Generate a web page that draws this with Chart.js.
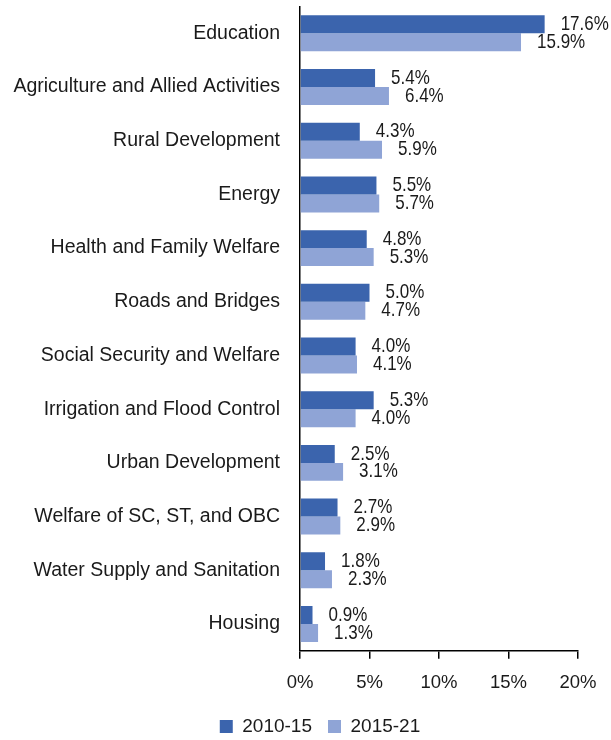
<!DOCTYPE html>
<html>
<head>
<meta charset="utf-8">
<script src="https://cdn.jsdelivr.net/npm/chart.js@4"></script>
<style>
  html, body { margin: 0; padding: 0; background: #fff; }
  #wrap { width: 611px; height: 740px; }
</style>
</head>
<body>
<div id="wrap"><canvas id="myChart" width="611" height="740"></canvas></div>
<script>
var sectors = ["Education", "Agriculture and Allied Activities", "Rural Development", "Energy",
  "Health and Family Welfare", "Roads and Bridges", "Social Security and Welfare",
  "Irrigation and Flood Control", "Urban Development", "Welfare of SC, ST, and OBC",
  "Water Supply and Sanitation", "Housing"];
var share1015 = [17.6, 5.4, 4.3, 5.5, 4.8, 5.0, 4.0, 5.3, 2.5, 2.7, 1.8, 0.9];
var share1521 = [15.9, 6.4, 5.9, 5.7, 5.3, 4.7, 4.1, 4.0, 3.1, 2.9, 2.3, 1.3];
var xTicks = [0, 5, 10, 15, 20];

var fontName = "'Liberation Sans', Arial, sans-serif";

// value labels to the right of each bar
var barLabels = {
  id: 'barLabels',
  afterDatasetsDraw: function(chart) {
    var ctx = chart.ctx;
    chart.data.datasets.forEach(function(ds, i) {
      chart.getDatasetMeta(i).data.forEach(function(bar, j) {
        ctx.save();
        ctx.font = "17px " + fontName;
        ctx.fillStyle = "#1a1a1a";
        ctx.textAlign = "left";
        ctx.textBaseline = "middle";
        ctx.translate(bar.x + 16, bar.y);
        ctx.scale(1, 1.2);
        ctx.fillText(ds.data[j].toFixed(1) + "%", 0, 0);
        ctx.restore();
      });
    });
  }
};

// nudge the legend to where the original has it
var legendShift = {
  id: 'legendShift',
  afterLayout: function(chart) {
    var lg = chart.legend;
    lg.left += 26; lg.right += 26;
    lg.top -= 6; lg.bottom -= 6;
  }
};

new Chart("myChart", {
  type: "bar",
  data: {
    labels: sectors,
    datasets: [{
      label: "2010-15",
      data: share1015,
      backgroundColor: "#3B64AD",
      categoryPercentage: 0.67,
      barPercentage: 1
    }, {
      label: "2015-21",
      data: share1521,
      backgroundColor: "#8FA4D6",
      categoryPercentage: 0.67,
      barPercentage: 1
    }]
  },
  options: {
    indexAxis: "y",
    responsive: false,
    animation: false,
    layout: {padding: {left: 10, right: 33, top: 6.5, bottom: -12}},
    plugins: {
      tooltip: {enabled: false},
      legend: {
        position: "bottom",
        labels: {
          boxWidth: 13,
          boxHeight: 13,
          padding: 16,
          color: "#1a1a1a",
          font: {family: fontName, size: 19}
        }
      }
    },
    scales: {
      x: {
        min: 0,
        max: 20,
        afterBuildTicks: function(s) { s.ticks = xTicks.map(function(v) { return {value: v}; }); },
        grid: {drawOnChartArea: false, drawTicks: true, tickLength: 8, color: "#000", lineWidth: 1.5},
        border: {color: "#000", width: 1.5},
        ticks: {
          color: "#1a1a1a",
          padding: 13,
          font: {family: fontName, size: 18.5},
          callback: function(v) { return v + "%"; }
        }
      },
      y: {
        afterFit: function(s) { s.width = 290; s.paddingTop = 0; s.paddingBottom = 0; },
        grid: {drawOnChartArea: false, drawTicks: false},
        border: {color: "#000", width: 1.5},
        ticks: {
          color: "#1a1a1a",
          padding: 20,
          font: {family: fontName, size: 19.5}
        }
      }
    }
  },
  plugins: [barLabels, legendShift]
});
</script>
</body>
</html>
